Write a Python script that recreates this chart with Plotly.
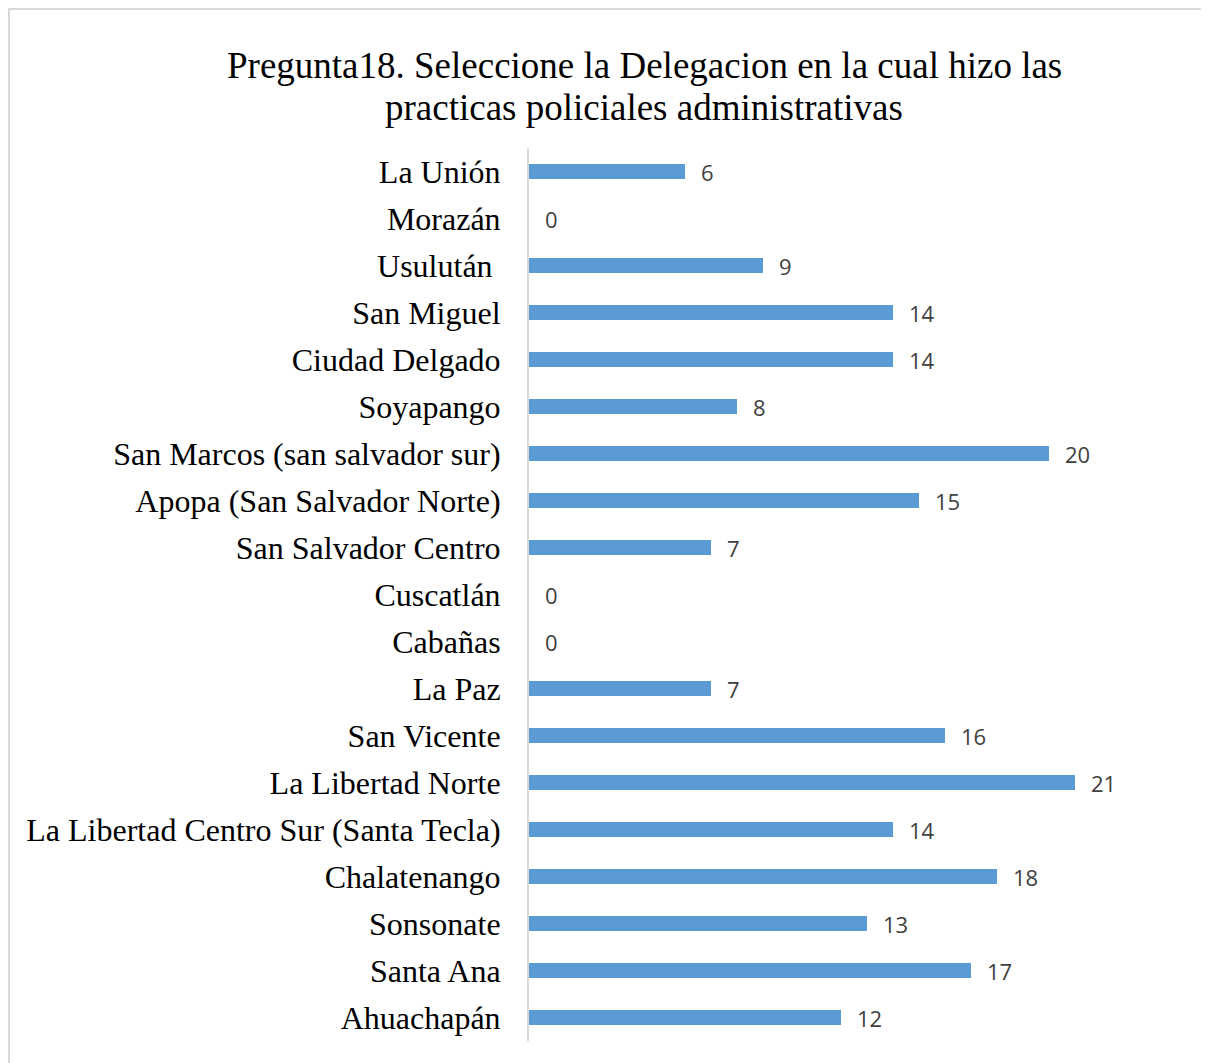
import plotly.graph_objects as go

categories = ["Ahuachapán", "Santa Ana", "Sonsonate", "Chalatenango",
              "La Libertad Centro Sur (Santa Tecla)", "La Libertad Norte",
              "San Vicente", "La Paz", "Cabañas", "Cuscatlán",
              "San Salvador Centro", "Apopa (San Salvador Norte)",
              "San Marcos (san salvador sur)", "Soyapango", "Ciudad Delgado",
              "San Miguel", "Usulután\u00a0", "Morazán", "La Unión"]
values = [12, 17, 13, 18, 14, 21, 16, 7, 0, 0, 7, 15, 20, 8, 14, 14, 9, 0, 6]

title_lines = ["Pregunta18. Seleccione la Delegacion en la cual hizo las",
               "practicas policiales administrativas"]

fig = go.Figure()
fig.add_trace(go.Bar(
    x=values, y=categories, orientation="h",
    marker=dict(color="#5B9BD5", line=dict(width=0)),
    hoverinfo="x+y",
))

for c, v in zip(categories, values):
    fig.add_annotation(x=v, y=c, text=str(v), showarrow=False,
                       xanchor="left", xshift=14,
                       font=dict(family="Open Sans", size=22, color="#404040"))

for line, yy in zip(title_lines, [1.0929, 1.0448]):
    fig.add_annotation(x=0.177, y=yy, xref="paper", yref="paper", text=line,
                       showarrow=False, xanchor="center", yanchor="middle",
                       font=dict(family="Liberation Serif", size=37, color="black"))

fig.add_shape(type="rect", xref="paper", yref="paper",
              x0=-0.8, x1=1.0431, y0=-0.1, y1=1.1556,
              line=dict(color="#d9d9d9", width=2), layer="below")

fig.update_layout(
    width=1201, height=1055,
    margin=dict(l=521, r=30, t=140, b=21.5),
    paper_bgcolor="white", plot_bgcolor="white",
    showlegend=False,
    bargap=0.68,
    xaxis=dict(range=[0, 25], showticklabels=False, showgrid=False,
               zeroline=False, showline=False, fixedrange=True),
    yaxis=dict(type="category", categoryorder="array", categoryarray=categories,
               showgrid=False, zeroline=False, showline=True,
               linecolor="#d9d9d9", linewidth=2, ticks="", ticklabelstandoff=20,
               tickfont=dict(family="Liberation Serif", size=32, color="black")),
)

fig.write_html("out.html")
